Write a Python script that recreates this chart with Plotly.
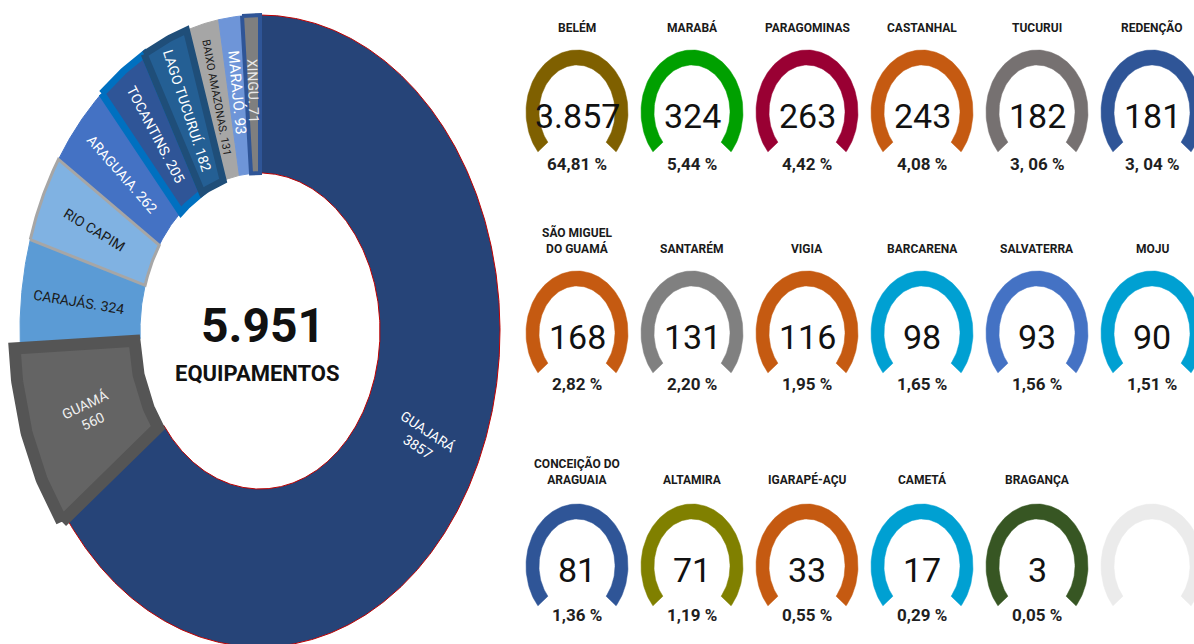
import numpy as np
import plotly.graph_objects as go

# ---------------- data ----------------
TOTAL = 5951
region_names = ["GUAJARÁ", "GUAMÁ", "CARAJÁS", "RIO CAPIM", "ARAGUAIA",
                "TOCANTINS", "LAGO TUCURUÍ", "BAIXO AMAZONAS", "MARAJÓ", "XINGU"]
region_values = [3857, 560, 324, 266, 262, 205, 182, 131, 93, 71]
region_labels = ["GUAJARÁ<br>3857", "GUAMÁ<br>560", "CARAJÁS. 324", "RIO CAPIM",
                 "ARAGUAIA. 262", "TOCANTINS. 205", "LAGO TUCURUÍ. 182",
                 "BAIXO AMAZONAS. 131", "MARAJÓ. 93", "XINGU. 71"]

city_names = ["BELÉM", "MARABÁ", "PARAGOMINAS", "CASTANHAL", "TUCURUI", "REDENÇÃO",
              "SÃO MIGUEL<br>DO GUAMÁ", "SANTARÉM", "VIGIA", "BARCARENA", "SALVATERRA", "MOJU",
              "CONCEIÇÃO DO<br>ARAGUAIA", "ALTAMIRA", "IGARAPÉ-AÇU", "CAMETÁ", "BRAGANÇA"]
city_values = [3857, 324, 263, 243, 182, 181, 168, 131, 116, 98, 93, 90, 81, 71, 33, 17, 3]
city_pct_labels = ["64,81 %", "5,44 %", "4,42 %", "4,08 %", "3, 06 %", "3, 04 %",
                   "2,82 %", "2,20 %", "1,95 %", "1,65 %", "1,56 %", "1,51 %",
                   "1,36 %", "1,19 %", "0,55 %", "0,29 %", "0,05 %"]

# ---------------- styles ----------------
FONT = "Roboto, Lato, sans-serif"
region_fill = ["#264478", "#646464", "#5b9bd5", "#80b2e2", "#4472c4",
               "#2f5597", "#245f94", "#a6a6a6", "#6e95d8", "#7f7f7f"]
region_line = ["#c00000", "#555555", "#5b9bd5", "#a6a6a6", "#4472c4",
               "#0070c0", "#1f4e79", "#a6a6a6", "#6e95d8", "#2f5597"]
region_lw = [1, 12, 1, 3, 1, 7, 7, 1, 1, 4]
region_tc = ["#ffffff", "#f0f0f0", "#1a1a1a", "#1a1a1a", "#ffffff",
             "#ffffff", "#ffffff", "#1a1a1a", "#ffffff", "#e8e8e8"]
region_fs = [14, 14, 14, 14, 14, 14, 14, 11, 15, 14]

gauge_colors = ["#7f6000", "#00a000", "#990033", "#c55a11", "#767171", "#2f5597",
                "#c55a11", "#808080", "#c55a11", "#00a0d2", "#4472c4", "#00a0d2",
                "#2f5597", "#808000", "#c55a11", "#00a0d2", "#375623"]
EMPTY_COLOR = "#ebebeb"

CX, CY, RX, RY, HOLE = 260, 331, 240, 316, 0.5
PULL = 6
col_x = [577, 692, 807, 922, 1037, 1152]
row_cy = [112, 333, 566]
row_title_bottom = [37, 258, 489]
row_pct_y = [164, 384, 615]
G_RXO, G_RYO, G_RXI, G_RYI = 51, 62, 38, 47
G_A0, G_A1 = 220, -40

fig = go.Figure()


def ell_pts(cx, cy, rx, ry, a0, a1, n=120):
    t = np.radians(np.linspace(a0, a1, n))
    return cx + rx * np.cos(t), cy - ry * np.sin(t)


# ---------------- donut ----------------
angles = []
start = 90.0
for v in region_values:
    span = 360.0 * v / TOTAL
    angles.append((start, start - span))
    start -= span

order = sorted(range(len(region_values)), key=lambda i: region_lw[i])
for i in order:
    a0, a1 = angles[i]
    mid = np.radians((a0 + a1) / 2)
    dx = dy = 0.0
    if region_names[i] == "GUAMÁ":
        dx, dy = PULL * np.cos(mid), -PULL * np.sin(mid)
    n = max(20, int(abs(a0 - a1) * 2))
    xo, yo = ell_pts(CX + dx, CY + dy, RX, RY, a0, a1, n)
    xi, yi = ell_pts(CX + dx, CY + dy, RX * HOLE, RY * HOLE, a1, a0, n)
    xs = np.concatenate([xo, xi, xo[:1]])
    ys = np.concatenate([yo, yi, yo[:1]])
    fig.add_trace(go.Scatter(x=xs, y=ys, mode="lines", fill="toself",
                             fillcolor=region_fill[i],
                             line=dict(color=region_line[i], width=region_lw[i]),
                             hoverinfo="skip", showlegend=False))

for i, lab in enumerate(region_labels):
    a0, a1 = angles[i]
    mid = np.radians((a0 + a1) / 2)
    rr = (1 + HOLE) / 2 + 0.01
    px = CX + rr * RX * np.cos(mid)
    py = CY - rr * RY * np.sin(mid)
    ang = np.degrees(np.arctan2(-RY * np.sin(mid), RX * np.cos(mid)))
    if ang > 90:
        ang -= 180
    elif ang <= -90:
        ang += 180
    fig.add_annotation(x=px, y=py, text=lab, showarrow=False, textangle=ang,
                       font=dict(family=FONT, size=region_fs[i], color=region_tc[i]),
                       xanchor="center", yanchor="middle")

fig.add_annotation(x=CX + 3, y=CY - 6, text="<b>%s</b>" % f"{TOTAL:,}".replace(",", "."),
                   showarrow=False, font=dict(family=FONT, size=48, color="#111111"))
fig.add_annotation(x=CX - 3, y=CY + 42, text="<b>EQUIPAMENTOS</b>",
                   showarrow=False, font=dict(family=FONT, size=22, color="#111111"))

# ---------------- gauges ----------------
n_slots = len(col_x) * len(row_cy)
for k in range(n_slots):
    r, c = divmod(k, len(col_x))
    gx, gy = col_x[c], row_cy[r]
    color = gauge_colors[k] if k < len(city_values) else EMPTY_COLOR
    xo, yo = ell_pts(gx, gy, G_RXO, G_RYO, G_A0, G_A1)
    xi, yi = ell_pts(gx, gy, G_RXI, G_RYI, G_A1, G_A0)
    fig.add_trace(go.Scatter(x=np.concatenate([xo, xi, xo[:1]]),
                             y=np.concatenate([yo, yi, yo[:1]]),
                             mode="lines", fill="toself", fillcolor=color,
                             line=dict(color=color, width=0.5),
                             hoverinfo="skip", showlegend=False))
    if k >= len(city_values):
        continue
    fig.add_annotation(x=gx, y=row_title_bottom[r], text="<b>%s</b>" % city_names[k],
                       showarrow=False, yanchor="bottom",
                       font=dict(family=FONT, size=12, color="#1a1a1a"))
    fig.add_annotation(x=gx, y=gy + 4, text=f"{city_values[k]:,}".replace(",", "."),
                       showarrow=False, yanchor="middle",
                       font=dict(family=FONT, size=34, color="#111111"))
    fig.add_annotation(x=gx, y=row_pct_y[r], text="<b>%s</b>" % city_pct_labels[k],
                       showarrow=False, yanchor="middle",
                       font=dict(family=FONT, size=17, color="#1f1f1f"))

fig.update_xaxes(range=[0, 1194], visible=False, fixedrange=True)
fig.update_yaxes(range=[644, 0], visible=False, fixedrange=True)
fig.update_layout(width=1194, height=644, autosize=False,
                  margin=dict(l=0, r=0, t=0, b=0),
                  paper_bgcolor="white", plot_bgcolor="white", showlegend=False)

fig.write_html("out.html", config={"displayModeBar": False},
               post_script="document.body.style.margin='0';document.body.style.overflow='hidden';")
